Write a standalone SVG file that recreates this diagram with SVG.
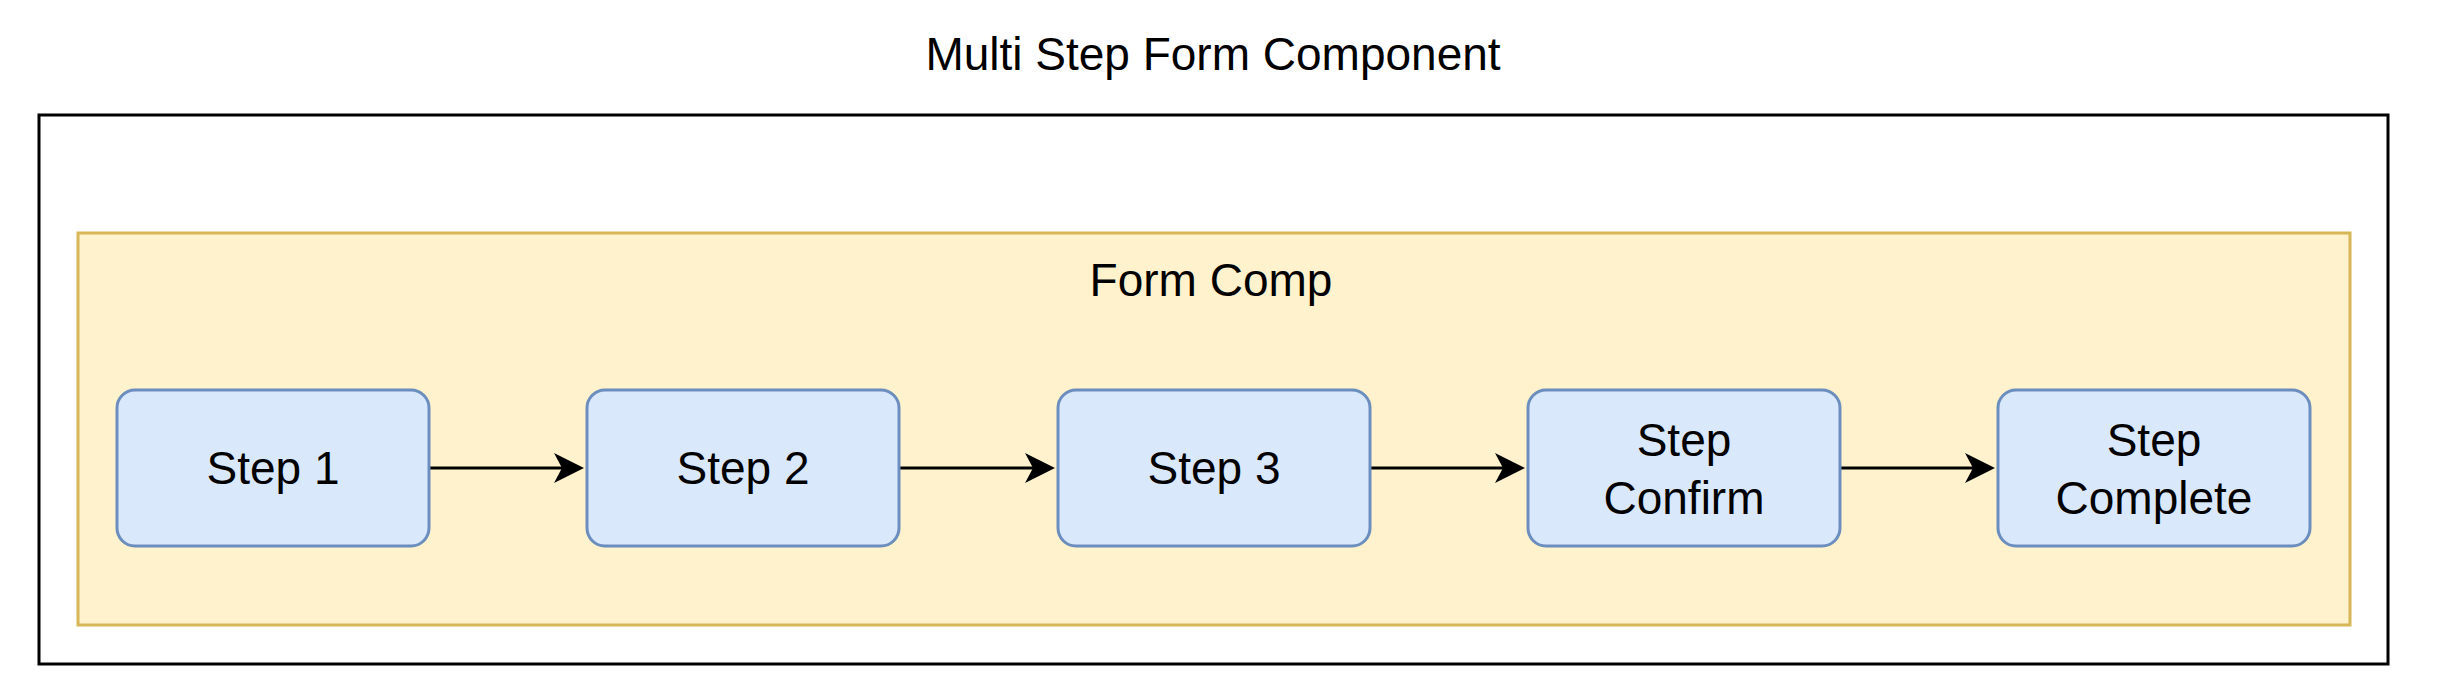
<svg xmlns="http://www.w3.org/2000/svg" width="2438" height="684" viewBox="0 0 2438 684">
<defs>
<style>
text{font-family:"Liberation Sans",Arial,sans-serif;font-size:46px;fill:#000;text-anchor:middle}
.step{fill:#dae8fc;stroke:#6c8ebf;stroke-width:3}
.conn{stroke:#000;stroke-width:3;fill:none}
.ah{fill:#000}
</style>
</defs>
<rect width="2438" height="684" fill="#fff"/>
<g id="outer">
<rect x="39" y="115" width="2349" height="549" fill="#fff" stroke="#000" stroke-width="3"/>
<text x="1213" y="70">Multi Step Form Component</text>
</g>
<g id="formcomp">
<rect x="78" y="233" width="2272" height="392" fill="#fff2cc" stroke="#d6b656" stroke-width="3"/>
<text x="1211" y="296">Form Comp</text>
</g>
<g id="connectors">
<line class="conn" x1="429" y1="468" x2="570" y2="468"/>
<path class="ah" d="M584,468 l-30,-15 l8,15 l-8,15 z"/>
<line class="conn" x1="899" y1="468" x2="1041" y2="468"/>
<path class="ah" d="M1055,468 l-30,-15 l8,15 l-8,15 z"/>
<line class="conn" x1="1370" y1="468" x2="1511" y2="468"/>
<path class="ah" d="M1525,468 l-30,-15 l8,15 l-8,15 z"/>
<line class="conn" x1="1840" y1="468" x2="1981" y2="468"/>
<path class="ah" d="M1995,468 l-30,-15 l8,15 l-8,15 z"/>
</g>
<g id="step1"><rect class="step" x="117" y="390" width="312" height="156" rx="18"/><text x="273" y="484">Step 1</text></g>
<g id="step2"><rect class="step" x="587" y="390" width="312" height="156" rx="18"/><text x="743" y="484">Step 2</text></g>
<g id="step3"><rect class="step" x="1058" y="390" width="312" height="156" rx="18"/><text x="1214" y="484">Step 3</text></g>
<g id="stepConfirm"><rect class="step" x="1528" y="390" width="312" height="156" rx="18"/><text x="1684" y="456">Step</text><text x="1684" y="514">Confirm</text></g>
<g id="stepComplete"><rect class="step" x="1998" y="390" width="312" height="156" rx="18"/><text x="2154" y="456">Step</text><text x="2154" y="514">Complete</text></g>
</svg>
